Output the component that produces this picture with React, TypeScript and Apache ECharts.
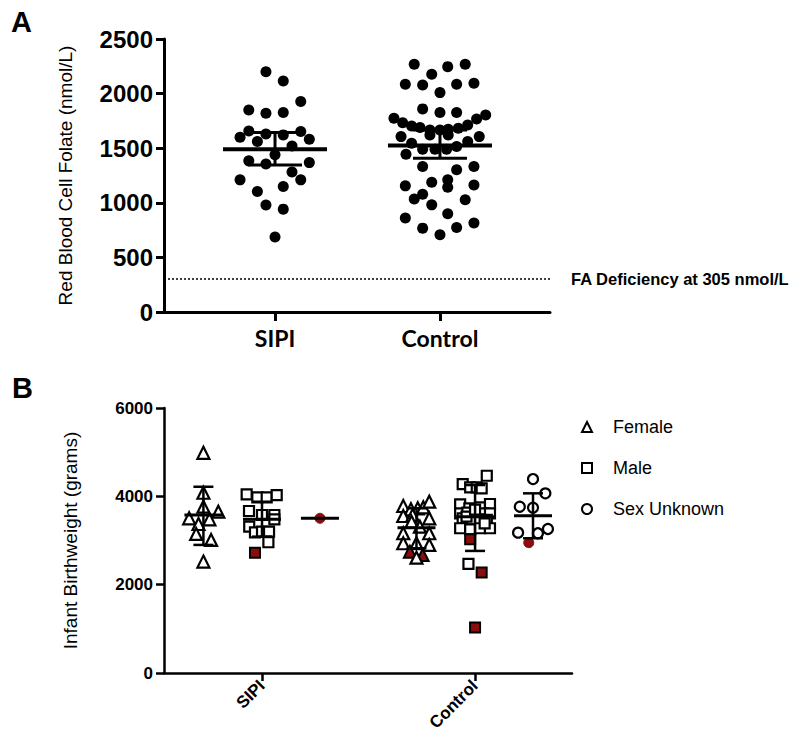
import React, { useEffect, useRef } from "react";
import * as echarts from "echarts";

// ---------- Panel A data: red blood cell folate (nmol/L) ----------
const groupsA = ["SIPI", "Control"];
const sipiFolate = [2200, 2116, 1927, 1850, 1820, 1826, 1658, 1600, 1631, 1622, 1652, 1582, 1561, 1521, 1439, 1384, 1356, 1368, 1283, 1210, 1210, 1103, 1149, 979, 942, 686];
const sipiJitter = [-0.055, 0.05, 0.156, -0.159, -0.055, 0.05, -0.159, -0.212, -0.055, 0.05, 0.156, 0.208, -0.107, 0.103, 0, -0.159, -0.055, 0.208, 0.103, -0.212, 0.156, -0.107, 0.05, -0.055, 0.05, 0];
const controlFolate = [2268, 2247, 2268, 2177, 2085, 2079, 2085, 2094, 2009, 1860, 1826, 1826, 1775, 1805, 1768, 1734, 1704, 1689, 1667, 1667, 1674, 1683, 1713, 1606, 1622, 1622, 1606, 1561, 1546, 1515, 1445, 1491, 1491, 1491, 1332, 1302, 1332, 1155, 1189, 1210, 1143, 1164, 1079, 1034, 981, 1027, 899, 860, 768, 707, 774, 814];
const controlJitter = [-0.156, 0.047, 0.153, -0.05, -0.21, -0.105, 0.101, 0.206, 0, -0.105, 0, 0.101, -0.279, 0.277, 0.222, -0.226, -0.172, -0.121, -0.061, 0, 0.05, 0.111, 0.168, -0.236, -0.061, 0.05, 0.238, 0.168, -0.172, 0.101, -0.206, -0.105, -0.03, 0.04, -0.105, 0.101, 0.206, -0.21, -0.05, 0.047, 0.047, 0.206, -0.105, -0.156, -0.05, 0.153, 0.047, -0.21, -0.105, 0, 0.101, 0.206];
const folateMean = [1490, 1525];
const folateLow = [1347, 1408];
const folateHigh = [1643, 1667];
const deficiencyThreshold = 305;
const yTicksA = [0, 500, 1000, 1500, 2000, 2500];

// ---------- Panel B data: infant birthweight (grams) ----------
const groupsB = ["SIPI", "Control"];
const sexes = ["Female", "Male", "Sex Unknown"];
// SIPI
const sipiFemaleBW = [4985, 4081, 3765, 3652, 3503, 3480, 3374, 3148, 3012, 2522];
const sipiFemaleJit = [0, 0, 0, 0.07, -0.067, 0.028, -0.023, -0.034, 0.036, 0];
const sipiFemaleRed = [0, 0, 0, 0, 0, 0, 0, 0, 0, 0];
const sipiMaleBW = [4045, 3977, 3977, 4029, 3668, 3577, 3577, 3480, 3313, 3186, 3200, 3200, 2960, 2725];
const sipiMaleJit = [-0.072, -0.022, 0.022, 0.069, -0.061, 0, 0.058, 0.058, -0.06, -0.033, 0, 0.033, 0.03, -0.033];
const sipiMaleRed = [0, 0, 0, 0, 0, 0, 0, 0, 0, 0, 0, 0, 0, 1];
const sipiUnknownBW = [3503];
const sipiUnknownJit = [0];
const sipiUnknownRed = [1];
// Control
const ctrlFemaleBW = [3781, 3706, 3729, 3751, 3878, 3555, 3577, 3503, 3426, 3313, 3164, 3164, 2938, 2938, 2900, 2748, 2673, 2612];
const ctrlFemaleJit = [-0.062, -0.026, 0.006, 0.032, 0.06, -0.062, -0.018, 0.06, -0.023, 0.016, -0.062, 0.06, -0.062, 0, 0.06, -0.031, 0.029, 0];
const ctrlFemaleRed = [0, 0, 0, 0, 0, 0, 0, 0, 0, 0, 0, 0, 0, 0, 0, 1, 1, 0];
const ctrlMaleBW = [4466, 4278, 4203, 4203, 4180, 3819, 3729, 3751, 3826, 3616, 3630, 3600, 3616, 3616, 3503, 3480, 3480, 3465, 3277, 3254, 3277, 3277, 3540, 3390, 3700, 3028, 2470, 2274, 1031];
const ctrlMaleJit = [0.055, -0.058, -0.023, 0.008, 0.031, -0.07, -0.027, 0.023, 0.07, -0.07, -0.036, 0, 0.039, 0.07, -0.058, -0.015, 0.023, 0.055, -0.07, -0.023, 0.023, 0.07, -0.04, 0.045, 0, -0.023, -0.031, 0.031, 0];
const ctrlMaleRed = [0, 0, 0, 0, 0, 0, 0, 0, 0, 0, 0, 0, 0, 0, 0, 0, 0, 0, 0, 0, 0, 0, 0, 0, 0, 1, 0, 1, 1];
const ctrlUnknownBW = [4391, 4068, 3765, 3743, 3178, 3164, 3261, 2951];
const ctrlUnknownJit = [0, 0.058, -0.062, 0, -0.07, 0.023, 0.07, -0.02];
const ctrlUnknownRed = [0, 0, 0, 0, 0, 0, 0, 1];
// group summary (mean, lower, upper) in order SIPI-F, SIPI-M, SIPI-U, Ctrl-F, Ctrl-M, Ctrl-U
const bwMean = [3577, 3480, 3503, 3291, 3540, 3562];
const bwLow = [2900, 3087, 3503, 2825, 2764, 3051];
const bwHigh = [4217, 3878, 3503, 3729, 4256, 4068];
const yTicksB = [0, 2000, 4000, 6000];

// ---------- layout helpers (positions, not data) ----------
const catPos = [1, 2]; // axis positions of SIPI and Control
const sexOffset = [-0.275, 0, 0.272]; // Female, Male, Unknown offsets within a group

const RED = "#8a0d0d";
const ARIAL = "Liberation Sans, Arial, sans-serif";

function summaryRenderer(meanHalf: number, capHalf: number, meanW: number, barW: number) {
  return (params: any, api: any) => {
    const x = api.value(0);
    const m = api.value(1);
    const lo = api.value(2);
    const hi = api.value(3);
    const pm = api.coord([x, m]);
    const pl = api.coord([x, lo]);
    const ph = api.coord([x, hi]);
    const st = { stroke: "#000", lineWidth: barW };
    const children: any[] = [
      { type: "line", shape: { x1: pm[0] - meanHalf, y1: pm[1], x2: pm[0] + meanHalf, y2: pm[1] }, style: { stroke: "#000", lineWidth: meanW } },
    ];
    if (hi > lo) {
      children.push({ type: "line", shape: { x1: ph[0], y1: ph[1], x2: pl[0], y2: pl[1] }, style: st });
      children.push({ type: "line", shape: { x1: ph[0] - capHalf, y1: ph[1], x2: ph[0] + capHalf, y2: ph[1] }, style: st });
      children.push({ type: "line", shape: { x1: pl[0] - capHalf, y1: pl[1], x2: pl[0] + capHalf, y2: pl[1] }, style: st });
    }
    return { type: "group", children };
  };
}

function pointsB(groupIdx: number, sexIdx: number, vals: number[], jit: number[], red: number[], symbol: string) {
  const base = catPos[groupIdx] + sexOffset[sexIdx];
  return vals.map((v, i) => {
    const d: any = { value: [base + jit[i], v] };
    if (red[i]) {
      d.itemStyle = { color: RED, borderColor: symbol === "circle" ? RED : "#000", borderWidth: symbol === "circle" ? 1 : 2 };
      d.z = 3;
    }
    return d;
  });
}

export default function App() {
  const ref = useRef<HTMLDivElement>(null);
  useEffect(() => {
    if (!ref.current) return;
    const chart = echarts.init(ref.current, undefined, { renderer: "svg" });

    const dotsA = [
      ...sipiFolate.map((v, i) => [catPos[0] + sipiJitter[i], v]),
      ...controlFolate.map((v, i) => [catPos[1] + controlJitter[i], v]),
    ];
    const summaryA = folateMean.map((m, i) => [catPos[i], m, folateLow[i], folateHigh[i]]);
    const summaryB = bwMean.map((m, i) => [catPos[Math.floor(i / 3)] + sexOffset[i % 3], m, bwLow[i], bwHigh[i]]);

    const markerStyle = { color: "#fff", borderColor: "#000", borderWidth: 2.2, opacity: 1 };
    const plain = (v: number) => String(v);

    const option: any = {
      animation: false,
      backgroundColor: "#fff",
      graphic: [
        { type: "text", left: 11, top: 7, style: { text: "A", font: `bold 29px ${ARIAL}`, fill: "#000" } },
        { type: "text", left: 12, top: 373, style: { text: "B", font: `bold 29px ${ARIAL}`, fill: "#000" } },
      ],
      legend: {
        orient: "vertical",
        left: 576,
        top: 413,
        itemGap: 23,
        itemWidth: 10,
        itemHeight: 10,
        data: sexes,
        textStyle: { fontSize: 18, fontFamily: ARIAL, color: "#000", padding: [0, 0, 0, 16] },
        itemStyle: { color: "#fff", borderColor: "#000", borderWidth: 2 },
      },
      grid: [
        { left: 164, top: 39, width: 386, height: 273 },
        { left: 164, top: 408, width: 408, height: 265 },
      ],
      xAxis: [
        {
          type: "value",
          gridIndex: 0,
          min: 0.327,
          max: 2.667,
          splitLine: { show: false },
          axisLine: { lineStyle: { color: "#000", width: 3 } },
          axisTick: { customValues: catPos, length: 9, lineStyle: { color: "#000", width: 3 } },
          axisLabel: {
            customValues: catPos,
            formatter: (v: number) => groupsA[catPos.indexOf(Math.round(v))] ?? "",
            fontFamily: "Lato, sans-serif",
            fontWeight: "bold",
            fontSize: 23,
            color: "#000",
            margin: 14,
          },
        },
        {
          type: "value",
          gridIndex: 1,
          min: 0.54,
          max: 2.455,
          splitLine: { show: false },
          axisLine: { lineStyle: { color: "#000", width: 2.5 } },
          axisTick: { customValues: catPos, length: 8, lineStyle: { color: "#000", width: 2.5 } },
          axisLabel: {
            customValues: catPos,
            formatter: (v: number) => groupsB[catPos.indexOf(Math.round(v))] ?? "",
            rotate: 45,
            fontFamily: ARIAL,
            fontWeight: "bold",
            fontSize: 17,
            color: "#000",
            margin: 10,
          },
        },
      ],
      yAxis: [
        {
          type: "value",
          gridIndex: 0,
          min: yTicksA[0],
          max: yTicksA[yTicksA.length - 1],
          interval: 500,
          splitLine: { show: false },
          axisLine: { show: true, lineStyle: { color: "#000", width: 3 } },
          axisTick: { show: true, length: 8, lineStyle: { color: "#000", width: 3 } },
          axisLabel: { formatter: plain, fontFamily: ARIAL, fontWeight: "bold", fontSize: 24, color: "#000", margin: 11 },
          name: "Red Blood Cell Folate (nmol/L)",
          nameLocation: "middle",
          nameGap: 89,
          nameTextStyle: { fontFamily: ARIAL, fontSize: 19, color: "#000" },
        },
        {
          type: "value",
          gridIndex: 1,
          min: yTicksB[0],
          max: yTicksB[yTicksB.length - 1],
          interval: 2000,
          splitLine: { show: false },
          axisLine: { show: true, lineStyle: { color: "#000", width: 2.5 } },
          axisTick: { show: true, length: 8, lineStyle: { color: "#000", width: 2.5 } },
          axisLabel: { formatter: plain, fontFamily: ARIAL, fontWeight: "bold", fontSize: 17, color: "#000", margin: 11 },
          name: "Infant Birthweight (grams)",
          nameLocation: "middle",
          nameGap: 84,
          nameTextStyle: { fontFamily: ARIAL, fontSize: 19, color: "#000" },
        },
      ],
      series: [
        {
          name: "Folate",
          type: "scatter",
          xAxisIndex: 0,
          yAxisIndex: 0,
          symbol: "circle",
          symbolSize: 11,
          itemStyle: { color: "#000", opacity: 1 },
          data: dotsA,
          markLine: {
            silent: true,
            symbol: ["none", "none"],
            lineStyle: { color: "#000", type: [2, 2], width: 1.5 },
            label: {
              show: true,
              position: "end",
              distance: 21,
              formatter: `FA Deficiency at ${deficiencyThreshold} nmol/L`,
              fontFamily: ARIAL,
              fontWeight: "bold",
              fontSize: 16.5,
              color: "#000",
            },
            data: [{ yAxis: deficiencyThreshold }],
          },
        },
        {
          name: "FolateSummary",
          type: "custom",
          xAxisIndex: 0,
          yAxisIndex: 0,
          z: 5,
          renderItem: summaryRenderer(52, 27, 4, 3),
          encode: { x: 0, y: [1, 2, 3] },
          data: summaryA,
        },
        {
          name: "Female",
          type: "scatter",
          xAxisIndex: 1,
          yAxisIndex: 1,
          symbol: "triangle",
          symbolSize: 12,
          itemStyle: markerStyle,
          data: [
            ...pointsB(0, 0, sipiFemaleBW, sipiFemaleJit, sipiFemaleRed, "triangle"),
            ...pointsB(1, 0, ctrlFemaleBW, ctrlFemaleJit, ctrlFemaleRed, "triangle"),
          ],
        },
        {
          name: "Male",
          type: "scatter",
          xAxisIndex: 1,
          yAxisIndex: 1,
          symbol: "rect",
          symbolSize: 10,
          itemStyle: markerStyle,
          data: [
            ...pointsB(0, 1, sipiMaleBW, sipiMaleJit, sipiMaleRed, "rect"),
            ...pointsB(1, 1, ctrlMaleBW, ctrlMaleJit, ctrlMaleRed, "rect"),
          ],
        },
        {
          name: "Sex Unknown",
          type: "scatter",
          xAxisIndex: 1,
          yAxisIndex: 1,
          symbol: "circle",
          symbolSize: 10,
          itemStyle: markerStyle,
          data: [
            ...pointsB(0, 2, sipiUnknownBW, sipiUnknownJit, sipiUnknownRed, "circle"),
            ...pointsB(1, 2, ctrlUnknownBW, ctrlUnknownJit, ctrlUnknownRed, "circle"),
          ],
        },
        {
          name: "BWSummary",
          type: "custom",
          xAxisIndex: 1,
          yAxisIndex: 1,
          z: 5,
          renderItem: summaryRenderer(19, 10, 3, 2.5),
          encode: { x: 0, y: [1, 2, 3] },
          data: summaryB,
        },
      ],
    };
    chart.setOption(option);
    return () => chart.dispose();
  }, []);
  return <div ref={ref} style={{ position: "absolute", left: 0, top: 0, width: 800, height: 744 }} />;
}
